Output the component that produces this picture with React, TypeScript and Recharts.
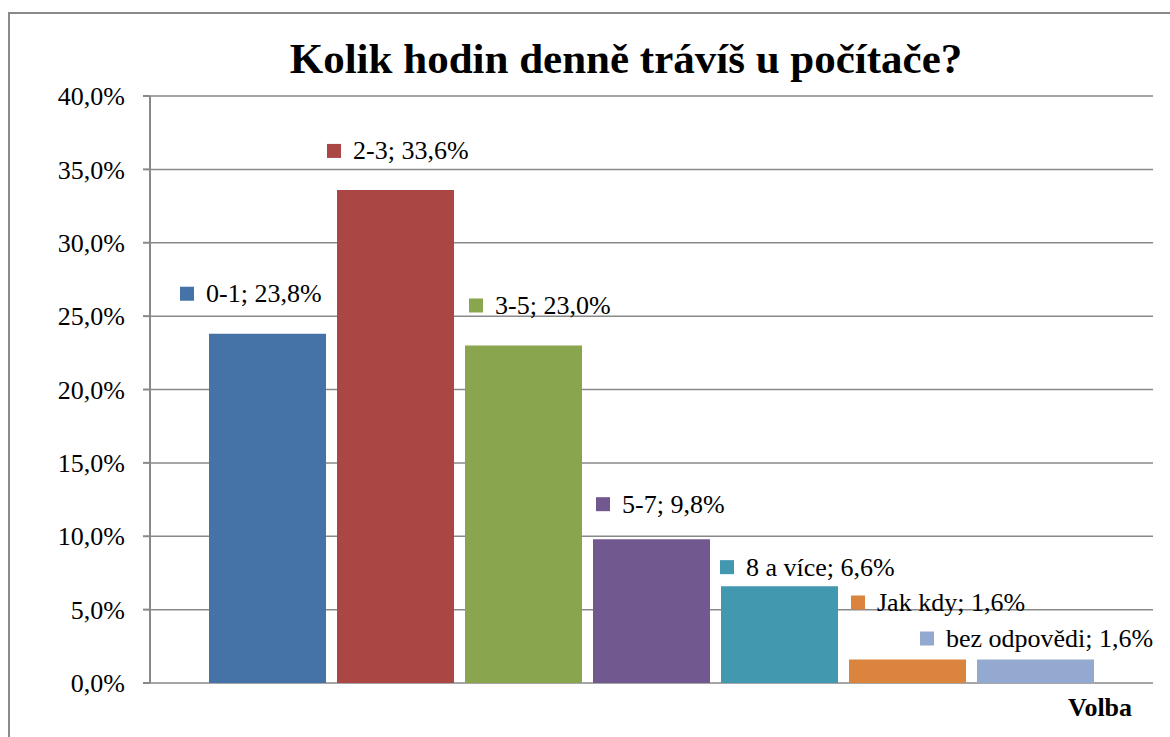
import { BarChart, Bar, XAxis, YAxis, CartesianGrid, LabelList } from 'recharts';

// Kolik hodin denně trávíš u počítače? – one category, seven series
const categories = ['0-1', '2-3', '3-5', '5-7', '8 a více', 'Jak kdy', 'bez odpovědi'];
const shares = [23.8, 33.6, 23.0, 9.8, 6.6, 1.6, 1.6];
const colors = ['#4572A7', '#AA4643', '#89A54E', '#71588F', '#4198AF', '#DB843D', '#93A9CF'];
const yTicks = [0, 5, 10, 15, 20, 25, 30, 35, 40];
const axisTitle = 'Volba';

// hand-placed label offsets (relative to bar left / bar top), like the Excel original
const labelShift = [
  [-29, -40],
  [-10, -39],
  [4, -40],
  [3, -35],
  [-1, -19],
  [2, -57],
  [-57, -21],
];

const FONT = '"Liberation Serif", "Times New Roman", serif';
const GRID = '#898989';

const fmt = (v: number) => v.toFixed(1).replace('.', ',') + '%';

const row: Record<string, any> = { name: axisTitle };
categories.forEach((c, i) => {
  row['s' + i] = shares[i];
});
const data = [row];

function makeLabel(i: number) {
  return (props: any) => {
    const x = props.x ?? props.viewBox?.x;
    const y = props.y ?? props.viewBox?.y;
    const [dx, dy] = labelShift[i];
    const lx = x + dx;
    const cy = y + dy;
    return (
      <g>
        <rect x={lx} y={cy - 7} width={14} height={14} fill={colors[i]} />
        <text
          x={lx + 26}
          y={cy}
          dominantBaseline="central"
          fontFamily={FONT}
          fontSize={26}
          fill="#000"
        >
          {categories[i] + '; ' + fmt(shares[i])}
        </text>
      </g>
    );
  };
}

export default function App() {
  return (
    <div
      style={{
        position: 'fixed',
        left: 0,
        top: 0,
        width: 1170,
        height: 737,
        overflow: 'hidden',
        background: '#fff',
        fontFamily: FONT,
      }}
    >
      {/* chart frame, cut off at right and bottom */}
      <div
        style={{
          position: 'absolute',
          left: 8,
          top: 12,
          width: 1200,
          height: 800,
          borderLeft: '2px solid #8a8a8a',
          borderTop: '2px solid #8a8a8a',
        }}
      />
      <div
        style={{
          position: 'absolute',
          left: 0,
          width: 1252,
          top: 34,
          textAlign: 'center',
          fontWeight: 'bold',
          fontSize: 43,
          lineHeight: '50px',
          color: '#000',
        }}
      >
        Kolik hodin denně trávíš u počítače?
      </div>
      <div
        style={{
          position: 'absolute',
          left: 1068,
          top: 693,
          fontWeight: 'bold',
          fontSize: 26,
          lineHeight: '29px',
          color: '#000',
        }}
      >
        {axisTitle}
      </div>
      <div style={{ position: 'absolute', left: 0, top: 0 }}>
        <BarChart
          width={1170}
          height={737}
          data={data}
          margin={{ top: 96, right: 17, left: 0, bottom: 54 }}
          barSize={117}
          barGap={11}
        >
          <CartesianGrid vertical={false} stroke={GRID} strokeWidth={1.5} />
          <XAxis
            dataKey="name"
            tick={false}
            tickLine={false}
            height={0}
            axisLine={{ stroke: GRID, strokeWidth: 2 }}
          />
          <YAxis
            width={150}
            domain={[0, 40]}
            ticks={yTicks}
            interval={0}
            tickFormatter={fmt}
            tickSize={7}
            tickMargin={18}
            axisLine={{ stroke: GRID, strokeWidth: 2 }}
            tickLine={{ stroke: GRID, strokeWidth: 2 }}
            tick={{ fill: '#000', fontSize: 26, fontFamily: FONT }}
          />
          {categories.map((c, i) => (
            <Bar key={c} dataKey={'s' + i} name={c} fill={colors[i]} isAnimationActive={false}>
              <LabelList dataKey={'s' + i} content={makeLabel(i)} />
            </Bar>
          ))}
        </BarChart>
      </div>
    </div>
  );
}
